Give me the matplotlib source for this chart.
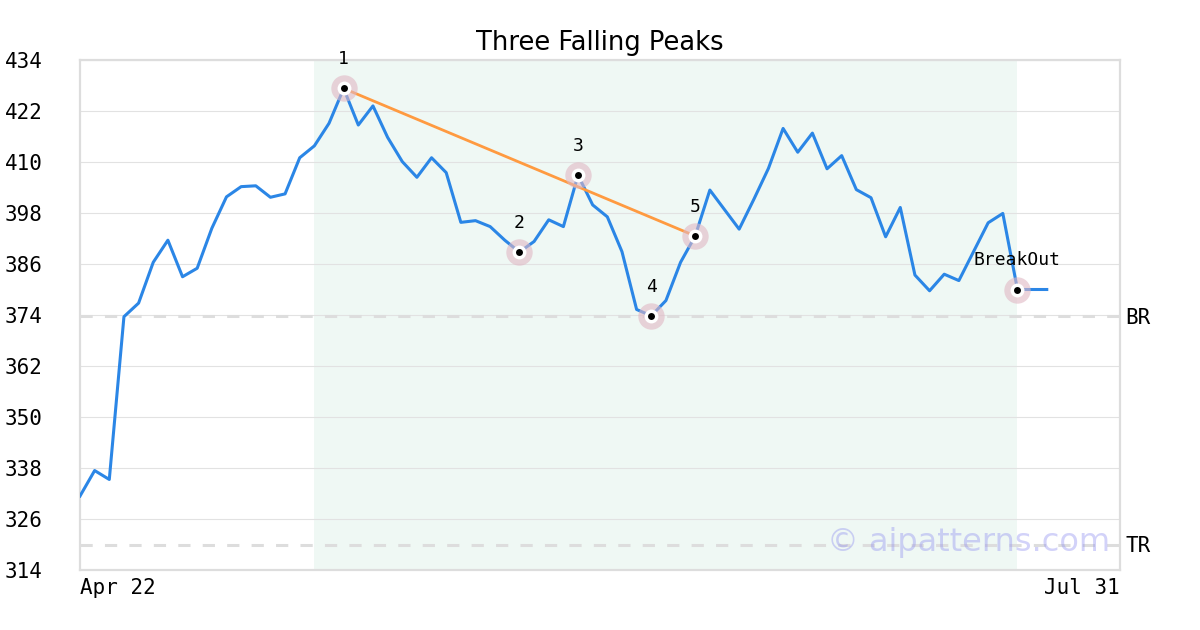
import matplotlib.pyplot as plt

# closing prices, one per trading day (index 0 = Apr 22)
prices = [331.4, 337.4, 335.3, 373.6, 376.8, 386.4, 391.6, 383.0, 385.0, 394.4,
          401.8, 404.2, 404.4, 401.7, 402.5, 411.0, 413.8, 419.1, 427.3, 418.7,
          423.2, 415.8, 410.1, 406.4, 411.0, 407.5, 395.8, 396.2, 394.8, 391.6,
          388.8, 391.3, 396.4, 394.8, 406.9, 399.9, 397.1, 388.9, 375.3, 373.8,
          377.4, 386.4, 392.6, 403.4, 398.8, 394.2, 401.2, 408.5, 417.9, 412.3,
          416.8, 408.4, 411.5, 403.5, 401.6, 392.4, 399.3, 383.4, 379.7, 383.6,
          382.1, 388.9, 395.7, 397.9, 380.0, 380.0, 380.0]
days = list(range(len(prices)))

# pattern points
pivot_idx = [18, 30, 34, 39, 42, 64]
pivot_labels = ["1", "2", "3", "4", "5", "BreakOut"]
peak_line_idx = [18, 42]
shade_start, shade_end = 16, 64

# levels
br_level = 373.7
tr_level = 320.0

x_end = 71
x_labels = ["Apr 22", "Jul 31"]
y_ticks = [314, 326, 338, 350, 362, 374, 386, 398, 410, 422, 434]

mono = "DejaVu Sans Mono"

fig = plt.figure(figsize=(12, 6.3), dpi=100)
ax = fig.add_axes([80 / 1200, 60 / 630, 1040 / 1200, 510 / 630])

# pattern area
ax.axvspan(shade_start, shade_end, color="#eff8f4", zorder=0, lw=0)

# grid
for t in y_ticks:
    ax.axhline(t, color="#e2e2e2", lw=0.8, zorder=1)

# BR / TR levels
for lvl, name in [(br_level, "BR"), (tr_level, "TR")]:
    ax.axhline(lvl, color="#dddddd", lw=2.2, linestyle=(0, (4, 4)), zorder=2)
    ax.text(1.005, lvl, name, transform=ax.get_yaxis_transform(), ha="left",
            va="center_baseline", fontsize=15, family=mono)

# price line
ax.plot(days, prices, color="#2b86e6", lw=2.2, zorder=3)

# falling peaks line
ax.plot(peak_line_idx, [prices[i] for i in peak_line_idx], color="#ff9a40",
        lw=2.0, zorder=4)

# markers
px = pivot_idx
py = [prices[i] for i in pivot_idx]
ax.plot(px, py, "o", ms=19, color="#e0b8c4", alpha=0.6, mew=0, zorder=5)
ax.plot(px, py, "o", ms=10, color="white", mew=0, zorder=6)
ax.plot(px, py, "o", ms=5, color="black", mew=0, zorder=7)
for i, lab in zip(pivot_idx, pivot_labels):
    ax.annotate(lab, (i, prices[i]), xytext=(0, 21), textcoords="offset points",
                ha="center", va="center", fontsize=13, family=mono, zorder=8)

# watermark
ax.text(0.854, 0.053, "\u00a9 aipatterns.com", transform=ax.transAxes,
        ha="center", va="center", fontsize=23, color="#9090f0", alpha=0.4,
        zorder=9)

ax.set_xlim(0, x_end)
ax.set_ylim(y_ticks[0], y_ticks[-1])
ax.set_yticks(y_ticks)
ax.set_yticklabels([str(t) for t in y_ticks], family=mono, fontsize=15)
ax.set_xticks([0, x_end])
xt = ax.set_xticklabels(x_labels, family=mono, fontsize=15)
xt[0].set_ha("left")
xt[1].set_ha("right")
ax.tick_params(axis="y", length=0, pad=27)
ax.tick_params(axis="x", length=0, pad=6)

for s in ax.spines.values():
    s.set_color("#dddddd")
    s.set_linewidth(1.6)

ax.set_title("Three Falling Peaks", fontsize=18.5, pad=7)

fig.savefig("out.png", dpi=100)
